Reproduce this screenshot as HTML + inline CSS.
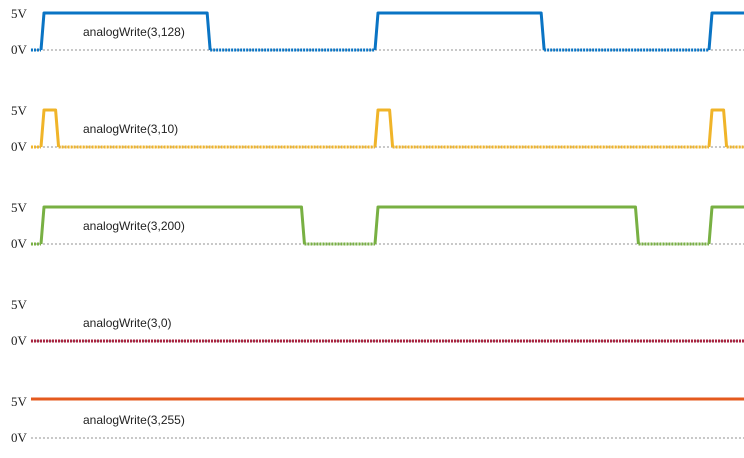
<!DOCTYPE html>
<html><head><meta charset="utf-8"><style>
body{margin:0;background:#fff;width:744px;height:453px;overflow:hidden}
svg text.lbl{font-family:"Liberation Sans",sans-serif}
svg text.v{font-family:"Liberation Serif",serif}
</style></head><body>
<svg id="c" width="744" height="453" xmlns="http://www.w3.org/2000/svg"></svg>
<script>
const labels = ["analogWrite(3,128)","analogWrite(3,10)","analogWrite(3,200)","analogWrite(3,0)","analogWrite(3,255)"];
const duties = [128,10,200,0,255];
const colors = ["#0a74c4","#f0b429","#78b043","#a8233f","#e45a1e"];
const tStart = -0.03, nPeriods = 3;
const svg = document.getElementById('c');
const NS = 'http://www.w3.org/2000/svg';
function xS(t){return 41 + t*334;}
function yLow(i){return 50 + i*97;}
function yHigh(i){return yLow(i) - (i===4?39:37);}
function mk(tag, attrs, parent){const e=document.createElementNS(NS,tag);for(const k in attrs)e.setAttribute(k,attrs[k]);(parent||svg).appendChild(e);return e;}
const X0 = xS(tStart), X1 = 744;
duties.forEach((d,i)=>{
  const g = mk('g',{});
  
  
  const t5 = mk('text',{x:11,y:yLow(i)-32,'font-size':13,fill:'#222',class:'v'},g);
  t5.textContent='5V';
  
  
  const t0 = mk('text',{x:11,y:yLow(i)+4,'font-size':13,fill:'#222',class:'v'},g);
  t0.textContent='0V';
  
  
  const tl = mk('text',{x:83,y:yLow(i)-14,'font-size':12,fill:'#222',class:'lbl'},g);
  tl.textContent=labels[i];
  
  
  const base = mk('line',{x1:X0,x2:X1,y1:yLow(i),y2:yLow(i),stroke:'#c8c8c8','stroke-width':2,'stroke-dasharray':'2,2'},g);
  
  
  const duty = d/255;
  const col = colors[i];
  if(duty<=0){
    const l=mk('line',{x1:X0,x2:X1,y1:yLow(i),y2:yLow(i),stroke:col,'stroke-width':3,'stroke-dasharray':'2,1'},g);
    
    
    return;
  }
  if(duty>=1){
    const l=mk('line',{x1:X0,x2:X1,y1:yHigh(i),y2:yHigh(i),stroke:col,'stroke-width':3},g);
    
    
    return;
  }
  let lowStart = X0;
  for(let p=0;p<nPeriods;p++){
    const r = xS(p), f = xS(p+duty) + (duty<0.1?3:0);
    if(r>X1) break;
    const lo=mk('line',{x1:lowStart,x2:Math.min(r,X1),y1:yLow(i),y2:yLow(i),stroke:col,'stroke-width':3,'stroke-dasharray':'2,1'},g);
    
    
    let dpath = `M${r},${yLow(i)} L${r+3},${yHigh(i)} L${Math.min(f-1.5,X1)},${yHigh(i)}`;
    if(f<X1) dpath += ` L${f+1.5},${yLow(i)}`;
    const hp=mk('path',{d:dpath,fill:'none',stroke:col,'stroke-width':3,'stroke-linejoin':'round'},g);
    
    
    lowStart = f+1.5;
  }
  if(lowStart<X1){
    const lo=mk('line',{x1:lowStart,x2:X1,y1:yLow(i),y2:yLow(i),stroke:col,'stroke-width':3,'stroke-dasharray':'2,1'},g);
    
    
  }
});
</script>
</body></html>
